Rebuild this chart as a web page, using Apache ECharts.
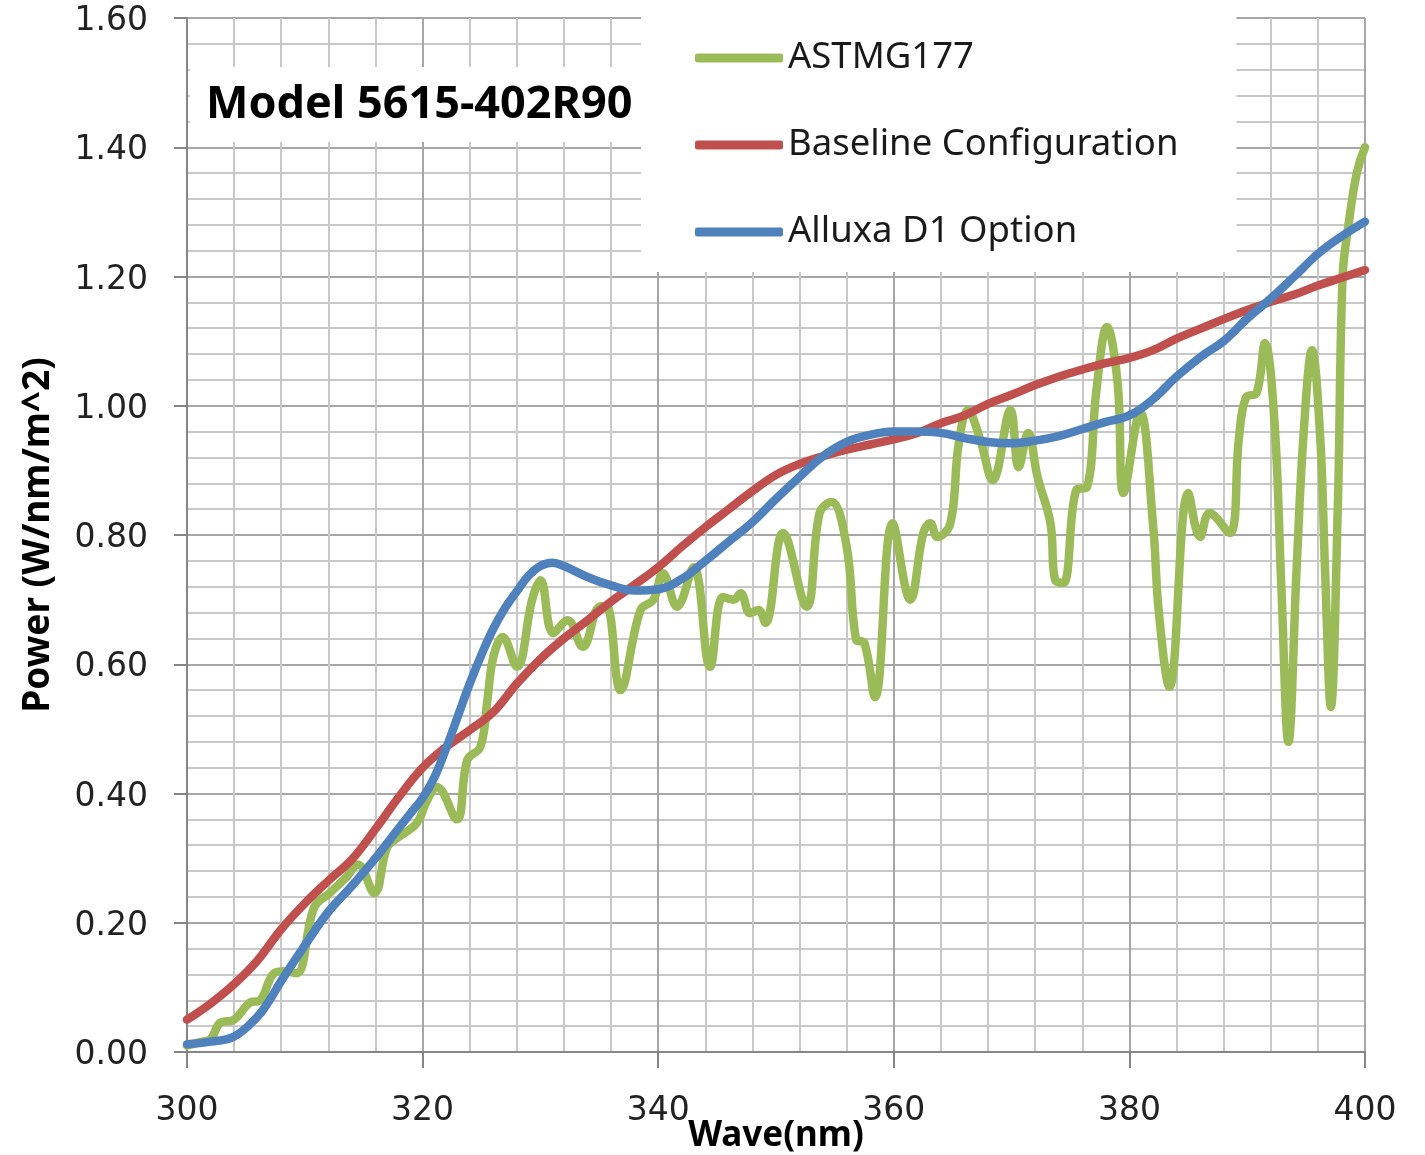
<!DOCTYPE html>
<html>
<head>
<meta charset="utf-8">
<script src="https://cdn.jsdelivr.net/npm/echarts@6/dist/echarts.min.js"></script>
<style>
  html, body { margin: 0; padding: 0; background: #ffffff; }
  #chart { width: 1425px; height: 1155px; }
</style>
</head>
<body>
<div id="chart"></div>
<script>
// Series names (legend order)
const seriesNames = ['ASTMG177', 'Baseline Configuration', 'Alluxa D1 Option'];

// ASTM G177 reference spectrum (wavelength nm, power W/nm/m^2)
const astmWave = [
  300, 301, 302, 302.8, 304, 305.3, 306.2, 307.4, 308.3, 309.3,
  310.8, 312.1, 313.5, 314.5, 315.9, 317, 318, 319.5, 320.4, 321.2,
  322.9, 323.8, 324.9, 325.5, 326, 326.8, 328, 329.3, 330, 331.1,
  332.3, 333.6, 335, 335.6, 336.8, 338.5, 339.6, 340.4, 341.6, 343,
  344.4, 345.5, 346.4, 347, 347.8, 348.5, 349.1, 350.6, 352.6, 353.7,
  354.7, 356, 356.8, 357.5, 358.4, 359.9, 361.4, 362.5, 363.1, 363.7,
  364.8, 365.5, 366.3, 367.3, 368.4, 369.9, 370.6, 371.4, 372.2, 373.3,
  373.7, 374.4, 375.5, 376.4, 377.2, 378.1, 379, 379.5, 380.9, 382,
  382.5, 383.4, 385, 386, 386.8, 388.5, 389.3, 389.9, 390.8, 391.5,
  392.3, 392.9, 393.5, 394.2, 394.8, 395.5, 396.2, 396.6, 397.1, 397.7,
  398.1, 398.6, 399.3, 400
];
const astmPower = [
  0.010, 0.015, 0.020, 0.045, 0.050, 0.076, 0.080, 0.122, 0.125, 0.122,
  0.224, 0.246, 0.270, 0.290, 0.246, 0.317, 0.333, 0.354, 0.390, 0.410,
  0.360, 0.452, 0.472, 0.545, 0.611, 0.642, 0.596, 0.700, 0.730, 0.648,
  0.668, 0.627, 0.689, 0.690, 0.560, 0.684, 0.700, 0.741, 0.689, 0.750,
  0.596, 0.704, 0.700, 0.710, 0.679, 0.684, 0.664, 0.803, 0.689, 0.834,
  0.851, 0.782, 0.638, 0.633, 0.549, 0.818, 0.700, 0.803, 0.818, 0.797,
  0.818, 0.940, 0.993, 0.950, 0.885, 0.993, 0.905, 0.958, 0.890, 0.818,
  0.730, 0.726, 0.870, 0.874, 1.024, 1.122, 1.035, 0.865, 0.990, 0.818,
  0.680, 0.565, 0.865, 0.797, 0.834, 0.803, 0.950, 1.013, 1.020, 1.097,
  0.980, 0.720, 0.480, 0.750, 0.960, 1.086, 0.950, 0.750, 0.534, 0.850,
  1.200, 1.280, 1.360, 1.400
];

// Baseline configuration
const baselineWave = [
  300, 302, 304, 306, 308, 310, 312, 314, 316, 318,
  320, 322, 324, 326, 328, 330, 332, 334, 336, 338,
  340, 342, 344, 346, 348, 350, 352, 354, 356, 358,
  360, 362, 364, 366, 368, 370, 372, 374, 376, 378,
  380, 382, 384, 386, 388, 390, 392, 394, 396, 398, 400
];
const baselinePower = [
  0.050, 0.075, 0.105, 0.142, 0.190, 0.230, 0.265, 0.298, 0.345, 0.395,
  0.440, 0.472, 0.498, 0.526, 0.570, 0.608, 0.640, 0.668, 0.697, 0.723,
  0.750, 0.782, 0.812, 0.840, 0.868, 0.893, 0.910, 0.922, 0.932, 0.940,
  0.948, 0.958, 0.973, 0.985, 1.003, 1.017, 1.032, 1.045, 1.056, 1.066,
  1.074, 1.086, 1.104, 1.119, 1.134, 1.148, 1.161, 1.172, 1.186, 1.198, 1.210
];

// Alluxa D1 option
const alluxaWave = [
  300, 302, 304, 306, 307, 308, 310, 312, 314, 316,
  318, 319, 320, 321, 322, 323, 324, 325, 326, 327,
  328, 329, 330, 331, 332, 334, 336, 338, 340, 342,
  344, 346, 348, 350, 352, 354, 356, 358, 360, 362,
  364, 366, 368, 370, 372, 374, 376, 378, 380, 382,
  384, 386, 388, 390, 392, 394, 396, 398, 400
];
const alluxaPower = [
  0.012, 0.016, 0.024, 0.055, 0.080, 0.110, 0.165, 0.217, 0.257, 0.300,
  0.347, 0.370, 0.393, 0.425, 0.470, 0.520, 0.570, 0.615, 0.655, 0.687,
  0.713, 0.737, 0.752, 0.757, 0.752, 0.735, 0.722, 0.714, 0.716, 0.732,
  0.760, 0.790, 0.820, 0.856, 0.890, 0.922, 0.944, 0.955, 0.960, 0.960,
  0.958, 0.950, 0.944, 0.942, 0.946, 0.953, 0.964, 0.975, 0.985, 1.010,
  1.045, 1.075, 1.100, 1.135, 1.166, 1.200, 1.235, 1.262, 1.285
];

const seriesColors = ['#9BBB59', '#C0504D', '#4F81BD'];

function pairs(xs, ys) {
  return xs.map((x, i) => [x, ys[i]]);
}

const chart = echarts.init(document.getElementById('chart'), null, { renderer: 'canvas' });

const axisGray = '#868686';
const majorGrid = '#a6a6a6';
const minorGrid = '#c8c8c8';
const labelFont = { fontFamily: 'DejaVu Sans', fontSize: 33, color: '#222222' };
const nameFont = { fontFamily: 'Noto Sans', fontWeight: 'bold', fontSize: 37, color: '#000000' };

function lineSeries(idx, data) {
  return {
    name: seriesNames[idx],
    type: 'line',
    data: data,
    smooth: 0.4,
    symbol: 'none',
    showSymbol: false,
    lineStyle: { color: seriesColors[idx], width: 8.5, cap: 'round', join: 'round' },
    itemStyle: { color: seriesColors[idx] },
    animation: false,
    z: 2 + idx
  };
}

chart.setOption({
  animation: false,
  backgroundColor: '#ffffff',
  grid: { left: 187, right: 60, top: 18, bottom: 103, containLabel: false, outerBoundsMode: 'none' },
  title: {
    text: 'Model 5615-402R90',
    left: 190,
    top: 67,
    padding: [13, 11, 11, 16],
    backgroundColor: '#ffffff',
    textStyle: { fontFamily: 'Noto Sans', fontWeight: 'bold', fontSize: 45, lineHeight: 51, color: '#000000' }
  },
  legend: {
    data: seriesNames,
    orient: 'vertical',
    left: 641,
    top: 16,
    padding: [22, 58, 20, 54],
    itemGap: 47,
    itemWidth: 88,
    itemHeight: 9,
    icon: 'roundRect',
    backgroundColor: '#ffffff',
    textStyle: { fontFamily: 'Noto Sans', fontSize: 36.5, lineHeight: 40, color: '#1a1a1a' }
  },
  xAxis: {
    type: 'value',
    min: 300,
    max: 400,
    interval: 20,
    name: 'Wave(nm)',
    nameLocation: 'middle',
    nameGap: 67,
    nameMoveOverlap: false,
    nameTextStyle: Object.assign({}, nameFont, { fontSize: 35 }),
    axisLine: { show: true, lineStyle: { color: axisGray, width: 2 } },
    axisTick: { show: true, inside: false, length: 16, lineStyle: { color: axisGray, width: 2 } },
    axisLabel: Object.assign({ margin: 43 }, labelFont),
    splitLine: { show: true, lineStyle: { color: majorGrid, width: 2 } },
    minorTick: { show: false, splitNumber: 5 },
    minorSplitLine: { show: true, lineStyle: { color: minorGrid, width: 2 } }
  },
  yAxis: {
    type: 'value',
    min: 0,
    max: 1.6,
    interval: 0.2,
    name: 'Power (W/nm/m^2)',
    nameLocation: 'middle',
    nameGap: 130,
    nameMoveOverlap: false,
    nameRotate: 90,
    nameTextStyle: nameFont,
    axisLine: { show: true, lineStyle: { color: axisGray, width: 2 } },
    axisTick: { show: true, inside: false, length: 13, lineStyle: { color: axisGray, width: 2 } },
    axisLabel: Object.assign({
      margin: 39,
      formatter: v => '{v|' + v.toFixed(2) + '}',
      rich: { v: Object.assign({ padding: [7, 0, 0, 0] }, labelFont) }
    }, labelFont),
    splitLine: { show: true, lineStyle: { color: majorGrid, width: 2 } },
    minorTick: { show: false, splitNumber: 5 },
    minorSplitLine: { show: true, lineStyle: { color: minorGrid, width: 2 } }
  },
  series: [
    lineSeries(0, pairs(astmWave, astmPower)),
    lineSeries(1, pairs(baselineWave, baselinePower)),
    lineSeries(2, pairs(alluxaWave, alluxaPower))
  ]
});
</script>
</body>
</html>
